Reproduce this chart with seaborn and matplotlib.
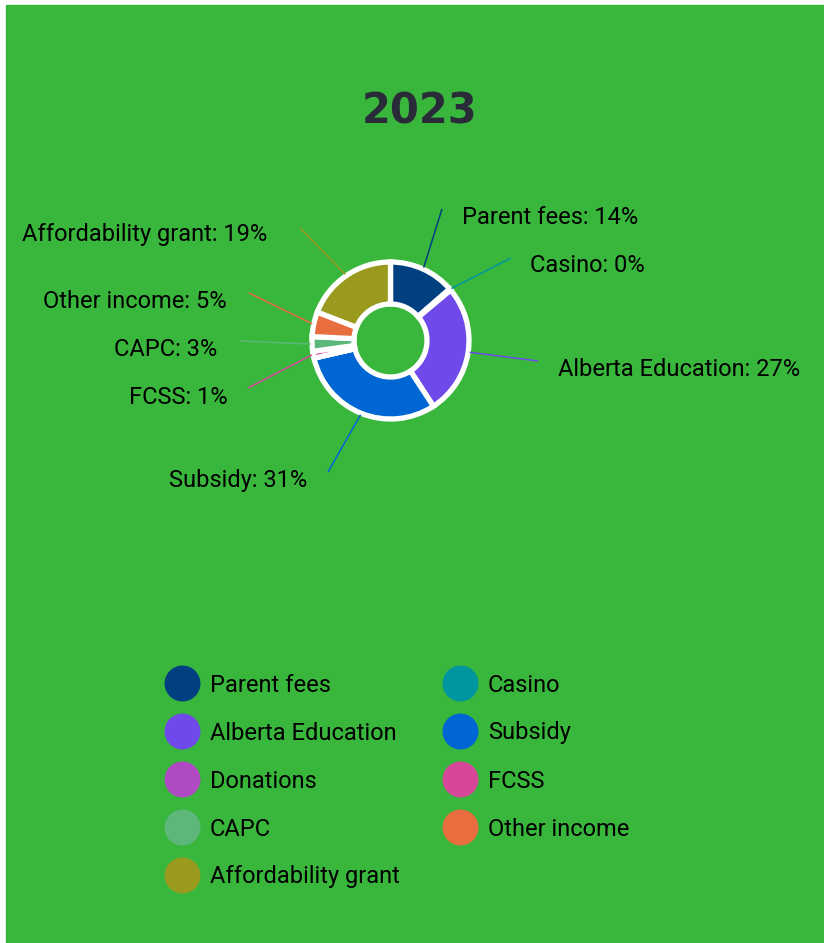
"""Donut chart of 2023 revenue sources with outside labels and a two-column legend."""

import matplotlib.pyplot as plt
import numpy as np
import seaborn as sns
from matplotlib.patches import Rectangle

sns.set_theme(style="white")
plt.rcParams["font.family"] = ["Roboto", "DejaVu Sans"]

# ── Data ──────────────────────────────────────────────────────────────────────

TITLE = "2023"
CATEGORIES = ["Parent fees", "Casino", "Alberta Education", "Subsidy", "Donations",
              "FCSS", "CAPC", "Other income", "Affordability grant"]
SHARES = [13.6, 0.3, 26.9, 30.6, 0.0, 1.4, 3.0, 5.1, 19.1]
COLORS = ["#003f80", "#00969f", "#7049ea", "#0066d3", "#b04ac2",
          "#d6479a", "#5db67a", "#e86e3f", "#999a1e"]

# ── Layout (pixels, measured from the top-left corner) ────────────────────────

W, H = 824, 943
BG = "#39b73c"
CENTER = (390.5, 340.5)
# connector end points and label anchors, in category order (None = no label)
LINE_ENDS = [(442, 209), (511, 258), (538, 361), (328, 472), None,
             (248, 388), (240, 341), (249, 293), (300, 228)]
LABEL_POS = [(462, 215), (530, 264), (558, 367), (307, 479), None,
             (228, 395), (217, 347), (227, 299), (267, 233)]
FONT_SIZE = 17


def up(y):
    """Convert a top-based pixel y into data y."""
    return H - y


def main():
    fig = plt.figure(figsize=(W / 100, H / 100), dpi=100)
    fig.patch.set_facecolor("white")
    ax = fig.add_axes([0, 0, 1, 1])
    ax.add_patch(Rectangle((6, 0), W - 6, H - 5, color=BG, zorder=0))

    cx, cy = CENTER[0], up(CENTER[1])
    wedges, _ = ax.pie(
        SHARES, colors=COLORS, startangle=90, counterclock=False,
        center=(cx, cy), radius=78.5,
        wedgeprops=dict(width=42, edgecolor="white", linewidth=3.8),
    )

    # outside labels with connector lines
    total = sum(SHARES)
    cum = np.cumsum([0] + SHARES)
    for i, (name, val) in enumerate(zip(CATEGORIES, SHARES)):
        if LINE_ENDS[i] is None:
            continue
        mid = (cum[i] + val / 2) / total * 2 * np.pi
        sx, sy = cx + 80 * np.sin(mid), cy + 80 * np.cos(mid)
        ex, ey = LINE_ENDS[i][0], up(LINE_ENDS[i][1])
        ax.plot([sx, ex], [sy, ey], color=COLORS[i], lw=1.1, zorder=3,
                solid_capstyle="butt")
        tx, ty = LABEL_POS[i][0], up(LABEL_POS[i][1] + 2)
        ha = "left" if tx > cx else "right"
        ax.text(tx, ty, f"{name}: {round(val)}%", ha=ha, va="center",
                fontsize=FONT_SIZE, color="black")

    # title
    ax.text(420, up(112), TITLE, ha="center", va="center", fontsize=30,
            fontweight="bold", color="#2a2b38", family=["DejaVu Sans"])

    # legend, filled row by row
    col_x = [182, 460]
    for i, (name, color) in enumerate(zip(CATEGORIES, COLORS)):
        row, col = divmod(i, 2)
        y = up(683 + row * 48)
        ax.scatter([col_x[col]], [y], s=670, color=color, linewidths=0, zorder=3)
        ax.text(col_x[col] + 28, up(685 + row * 48), name, ha="left", va="center",
                fontsize=FONT_SIZE, color="black")

    ax.set_xlim(0, W)
    ax.set_ylim(0, H)
    ax.axis("off")
    fig.savefig("out.png", dpi=100, facecolor=fig.get_facecolor())
    plt.close(fig)


if __name__ == "__main__":
    main()
